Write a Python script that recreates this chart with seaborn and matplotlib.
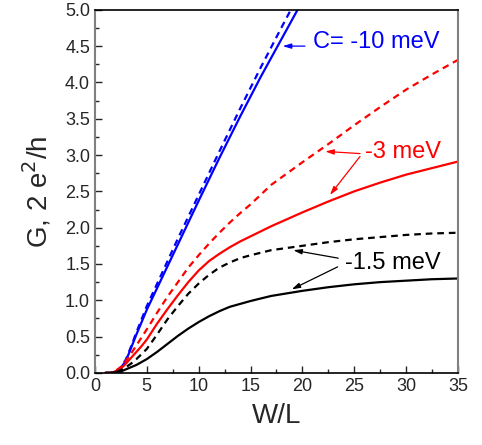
import numpy as np
import pandas as pd
import matplotlib
matplotlib.use("Agg")
import matplotlib.pyplot as plt
from matplotlib.ticker import MultipleLocator, FormatStrFormatter
import seaborn as sns

# --- DATA ---
wl = [1, 1.5, 2, 2.5, 3, 3.5, 4, 4.5, 5, 6, 7, 8, 9, 10, 11, 12, 13, 14, 15,
      17, 20, 22.5, 25, 27.5, 30, 32.5, 35]
wl_blue = [1, 1.5, 2, 2.5, 3, 3.5, 4, 4.5, 5, 6, 7, 8, 9, 10, 12, 14, 16, 18, 20]

g_blue_solid = [0.0, 0.0, 0.02, 0.07, 0.17, 0.35, 0.53, 0.70, 0.87, 1.17, 1.47, 1.77,
                2.07, 2.37, 2.96, 3.53, 4.08, 4.60, 5.12]
g_blue_dash = [0.0, 0.0, 0.02, 0.08, 0.19, 0.37, 0.56, 0.74, 0.92, 1.23, 1.54, 1.85,
               2.15, 2.45, 3.05, 3.64, 4.21, 4.76, 5.30]
g_red_dash = [0.0, 0.0, 0.03, 0.08, 0.17, 0.27, 0.38, 0.49, 0.60, 0.83, 1.05, 1.25, 1.45,
              1.62, 1.78, 1.93, 2.07, 2.20, 2.32, 2.59, 2.90, 3.15, 3.41, 3.66, 3.90, 4.11, 4.31]
g_red_solid = [0.0, 0.0, 0.02, 0.06, 0.13, 0.21, 0.29, 0.37, 0.46, 0.68, 0.88, 1.07, 1.25,
               1.41, 1.54, 1.64, 1.73, 1.81, 1.88, 2.02, 2.21, 2.36, 2.50, 2.62, 2.73, 2.82, 2.91]
g_blk_dash = [0.0, 0.0, 0.01, 0.04, 0.08, 0.13, 0.19, 0.26, 0.33, 0.53, 0.74, 0.92, 1.09,
              1.23, 1.35, 1.45, 1.52, 1.58, 1.62, 1.69, 1.75, 1.80, 1.84, 1.87, 1.90, 1.92, 1.93]
g_blk_solid = [0.0, 0.0, 0.01, 0.02, 0.05, 0.08, 0.11, 0.15, 0.19, 0.29, 0.40, 0.51, 0.61,
               0.70, 0.78, 0.85, 0.91, 0.95, 0.99, 1.06, 1.13, 1.18, 1.22, 1.25, 1.27, 1.29, 1.30]

xticks = [0, 5, 10, 15, 20, 25, 30, 35]
yticks = [0.0, 0.5, 1.0, 1.5, 2.0, 2.5, 3.0, 3.5, 4.0, 4.5, 5.0]

sns.set_style("ticks")
plt.rcParams['font.family'] = ['Liberation Sans', 'DejaVu Sans']

fig = plt.figure(figsize=(4.82, 4.45), dpi=100)
ax = fig.add_axes([0.197, 0.162, 0.753, 0.816])

series = [
    (wl_blue, g_blue_solid, "blue", "-"),
    (wl_blue, g_blue_dash, "blue", "--"),
    (wl, g_red_solid, "red", "-"),
    (wl, g_red_dash, "red", "--"),
    (wl, g_blk_solid, "black", "-"),
    (wl, g_blk_dash, "black", "--"),
]
for xs, ys, col, ls in series:
    df = pd.DataFrame({"WL": xs, "G": ys})
    sns.lineplot(data=df, x="WL", y="G", ax=ax, color=col, linewidth=1.6)
    if ls == "--":
        ax.lines[-1].set_dashes((3, 2.2))

ax.set_xlim(0, 35)
ax.set_ylim(0, 5.0)
ax.set_xticks(xticks)
ax.set_yticks(yticks)
ax.yaxis.set_major_formatter(FormatStrFormatter("%.1f"))
ax.xaxis.set_minor_locator(MultipleLocator(2.5))
ax.yaxis.set_minor_locator(MultipleLocator(0.25))
ax.tick_params(which="both", direction="in", top=False, right=False, labelsize=13, width=1)
ax.tick_params(which="major", length=5)
ax.tick_params(which="minor", length=3)
ax.set_xlabel("W/L", fontsize=20, labelpad=6)
ax.set_ylabel("G, 2 e$^2$/h", fontsize=20, labelpad=8)
for side in ["left", "right"]:
    ax.spines[side].set_color("#808080")
    ax.spines[side].set_linewidth(1.5)
for side in ["top", "bottom"]:
    ax.spines[side].set_color("black")
    ax.spines[side].set_linewidth(1.2)

# annotations
arr = dict(arrowstyle="-|>,head_length=0.5,head_width=0.15", lw=0.9, shrinkA=0, shrinkB=0)
ax.text(21.0, 4.55, "C= -10 meV", color="blue", fontsize=17, va="center")
ax.annotate("", xy=(18.1, 4.50), xytext=(20.25, 4.50), arrowprops=dict(color="blue", **arr))

ax.text(26.0, 3.04, "-3 meV", color="red", fontsize=17, va="center")
ax.annotate("", xy=(22.2, 3.05), xytext=(25.56, 3.02), arrowprops=dict(color="red", **arr))
ax.annotate("", xy=(22.66, 2.45), xytext=(25.56, 2.98), arrowprops=dict(color="red", **arr))

ax.text(24.1, 1.51, "-1.5 meV", color="black", fontsize=17, va="center")
ax.annotate("", xy=(19.12, 1.69), xytext=(23.46, 1.58), arrowprops=dict(color="black", **arr))
ax.annotate("", xy=(18.97, 1.15), xytext=(23.4, 1.46), arrowprops=dict(color="black", **arr))

fig.savefig("out.png", dpi=100)
